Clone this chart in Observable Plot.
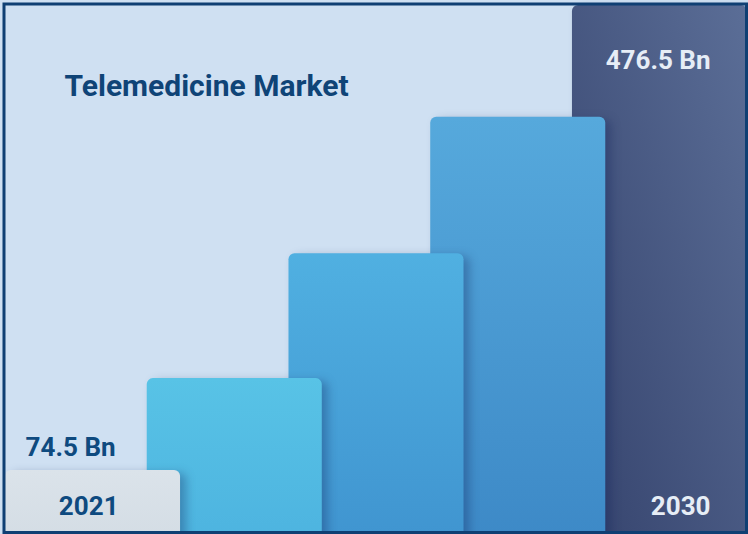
<!DOCTYPE html>
<html><head><meta charset="utf-8">
<script src="https://cdn.jsdelivr.net/npm/d3@7"></script>
<script src="https://cdn.jsdelivr.net/npm/@observablehq/plot@0.6"></script>
<style>html,body{margin:0;padding:0;background:#cfe0f2;overflow:hidden}</style>
</head><body><div id="chart"></div>
<script>
// ---- data ----
const title = "Telemedicine Market";
const years = ["2021", "", "", "", "2030"];
const values = [74.5, 154, 262, 380, 476.5];           // market size, USD Bn (middle bars estimated)
const valueLabels = ["74.5 Bn", "", "", "", "476.5 Bn"];
const gradientIds = ["g0", "g1", "g2", "g3", "g4"];

const bars = values.map((v, i) => ({i, year: years[i], value: v, label: valueLabels[i], fill: `url(#${gradientIds[i]})`}));
const drawOrder = bars.slice().reverse(); // earlier bars sit in front
const W = 1.235; // bar width relative to stride (bars overlap)
const first = bars.filter(d => d.i === 0);
const last = bars.filter(d => d.i === bars.length - 1);

const plot = Plot.plot({
  width: 748, height: 534,
  marginLeft: 5, marginRight: 1, marginTop: 5, marginBottom: 2,
  x: {domain: [0, bars.length - 1 + W], axis: null},
  y: {domain: [21, 476.5], axis: null},
  color: {type: "identity"},
  style: {background: "#cfe0f2", fontFamily: "Roboto, 'Open Sans', sans-serif", overflow: "hidden"},
  marks: [
    Plot.rect(drawOrder, {x1: "i", x2: d => d.i + W, y1: d => 0, y2: "value", fill: "fill", rx: 6}),
    Plot.text([title], {text: d => d, frameAnchor: "top-left", textAnchor: "start", lineAnchor: "top",
      dx: 59, dy: 69, fontSize: 30, fontWeight: 700, fill: "#0f4477"}),
    Plot.text(first, {x: d => d.i + W, y: "value", text: "label", textAnchor: "end", lineAnchor: "bottom",
      dx: -65, dy: -15, fontSize: 26, fontWeight: 700, fill: "#0e4a7f"}),
    Plot.text(first, {x: d => d.i + W, text: "year", frameAnchor: "bottom", textAnchor: "end", lineAnchor: "bottom",
      dx: -62, dy: -18, fontSize: 26, fontWeight: 700, fill: "#0e4a7f"}),
    Plot.text(last, {x: d => d.i + W, y: "value", text: "label", textAnchor: "end", lineAnchor: "top",
      dx: -37, dy: 45, fontSize: 26, fontWeight: 700, fill: "#e6edf6"}),
    Plot.text(last, {x: d => d.i + W, text: "year", frameAnchor: "bottom", textAnchor: "end", lineAnchor: "bottom",
      dx: -37, dy: -18, fontSize: 26, fontWeight: 700, fill: "#e6edf6"}),
    Plot.frame({stroke: "#0f3f73", strokeWidth: 3, insetLeft: -1.5, insetTop: -1.5, insetRight: 1, insetBottom: 0})
  ]
});

const svg = d3.select(plot);
const defs = svg.insert("defs", ":first-child");
function grad(id, stops, x1, y1, x2, y2) {
  const g = defs.append("linearGradient").attr("id", id)
    .attr("x1", x1).attr("y1", y1).attr("x2", x2).attr("y2", y2);
  stops.forEach(([o, c]) => g.append("stop").attr("offset", o).attr("stop-color", c));
}
grad("g0", [[0, "#dbe3ea"], [1, "#d2dbe3"]], 0, 0, 0, 1);
grad("g1", [[0, "#58c3e6"], [1, "#4cb2df"]], 0, 0, 0, 1);
grad("g2", [[0, "#50b0e1"], [1, "#3f93cf"]], 0, 0, 0, 1);
grad("g3", [[0, "#56a9dc"], [1, "#3c88c6"]], 0, 0, 0, 1);
grad("g4", [[0, "#5b6e97"], [1, "#34426c"]], 1, 0, 0, 1);
svg.selectAll("g[aria-label=rect] rect").style("filter", "drop-shadow(6px 3px 5px rgba(15,35,90,0.32))");

document.getElementById("chart").append(plot);
</script>
</body></html>
